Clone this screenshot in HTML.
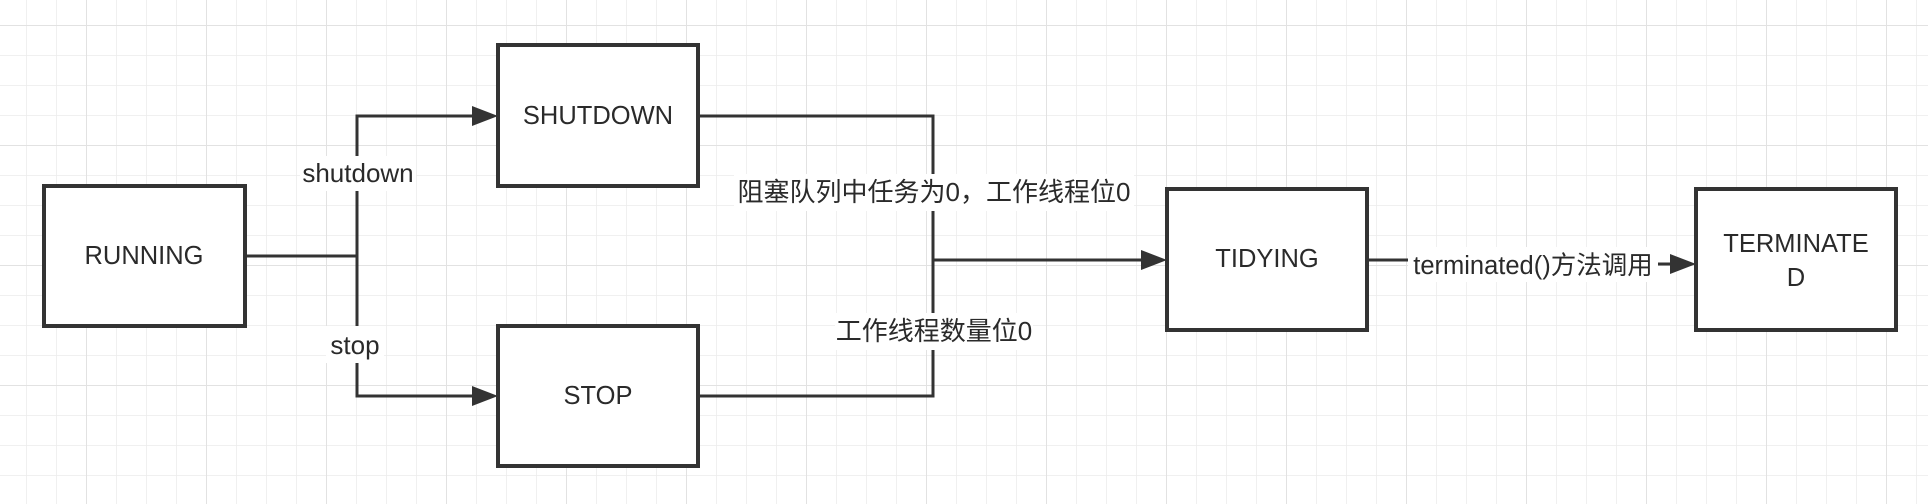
<!DOCTYPE html>
<html><head><meta charset="utf-8"><style>
html,body{margin:0;padding:0;background:#fff;}
svg{display:block;}
text{font-family:"Liberation Sans","Noto Sans CJK SC",sans-serif;fill:#2a2a2a;}
</style></head><body>
<svg width="1928" height="504" viewBox="0 0 1928 504" xmlns="http://www.w3.org/2000/svg">
<defs>
<pattern id="minor" x="26" y="25" width="30" height="30" patternUnits="userSpaceOnUse">
<path d="M0 0H30M0 0V30" stroke="#ececec" stroke-width="1.5" fill="none"/>
</pattern>
<pattern id="major" x="86" y="25" width="120" height="120" patternUnits="userSpaceOnUse">
<path d="M0 0H120M0 0V120" stroke="#e2e2e2" stroke-width="2" fill="none"/>
</pattern>
</defs>
<rect width="1928" height="504" fill="#fff"/>
<rect width="1928" height="504" fill="url(#minor)"/>
<rect width="1928" height="504" fill="url(#major)"/>

<g stroke="#333" stroke-width="3" fill="none">
<path d="M245 256H357"/>
<path d="M357 256V116H475"/>
<path d="M357 256V396H475"/>
<path d="M698 116H933V396H698"/>
<path d="M933 260H1145"/>
<path d="M1367 260H1410"/>
<path d="M1655 264H1675"/>
</g>
<g fill="#333">
<path d="M472 106L498 116L472 126Z"/>
<path d="M472 386L498 396L472 406Z"/>
<path d="M1141 250L1167 260L1141 270Z"/>
<path d="M1670 254L1696 264L1670 274Z"/>
</g>

<g fill="#fff" stroke="#333" stroke-width="4">
<rect x="44" y="186" width="201" height="140"/>
<rect x="498" y="45" width="200" height="141"/>
<rect x="498" y="326" width="200" height="140"/>
<rect x="1167" y="189" width="200" height="141"/>
<rect x="1696" y="189" width="200" height="141"/>
</g>

<g font-size="25.5" text-anchor="middle">
<text x="144" y="264">RUNNING</text>
<text x="598" y="124">SHUTDOWN</text>
<text x="598" y="404">STOP</text>
<text x="1267" y="267">TIDYING</text>
<text x="1796" y="252">TERMINATE</text>
<text x="1796" y="286">D</text>
</g>

<g fill="#fff">
<rect x="300" y="156" width="116" height="35"/>
<rect x="326" y="326" width="58" height="37"/>
<rect x="734" y="174" width="400" height="37"/>
<rect x="835" y="313" width="198" height="37"/>
<rect x="1408" y="247" width="250" height="35"/>
</g>
<g font-size="26" text-anchor="middle">
<text x="358" y="182">shutdown</text>
<text x="355" y="354">stop</text>
<text x="934" y="201">阻塞队列中任务为0，工作线程位0</text>
<text x="934" y="340">工作线程数量位0</text>
<text x="1533" y="274" font-size="25.5">terminated()方法调用</text>
</g>
</svg>
</body></html>
